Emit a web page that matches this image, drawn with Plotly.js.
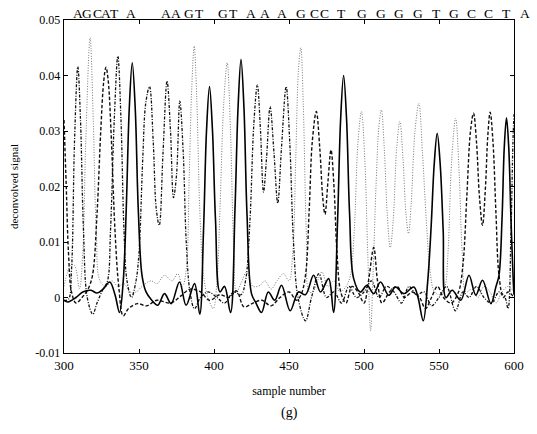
<!DOCTYPE html>
<html>
<head>
<meta charset="utf-8">
<script src="https://cdn.plot.ly/plotly-3.0.1.min.js"></script>
<style>html,body{margin:0;padding:0;background:#fff;}#chart{width:537px;height:434px;}</style>
</head>
<body>
<div id="chart"></div>
<script>
// T channel (solid)
const tX = [300,302.5,308,312.5,318,322,326,330.5,334,337,339.5,341.5,343.5,345.5,347.5,349.5,352,354.7,358.5,362.5,367,371.4,377,381.4,387,390.5,393,395,397,399,401,404,407,411,414,416,418,420,422,425,428,431.7,436.2,440.5,445,450.8,456.3,461,466.4,471,476.4,479.7,482.4,484.4,486.4,488.4,490.4,493.1,497.6,502,506.5,511,516.5,521,526.5,533.2,536,539.5,542.5,544.8,546.8,548.8,550.8,552.8,554.6,558.8,564.5,570,574.5,579,584.6,588,590,592,593.5,595,596.5,598,599.5,600];
const tY = [-0.0005,-0.0008,0.0,0.001,0.0013,0.0008,0.0015,0.0028,0.0005,-0.0027,0.003,0.016,0.034,0.0423,0.034,0.016,0.004,0.001,-0.0005,-0.0014,0.0007,-0.0011,0.0028,-0.0014,0.0025,-0.003,0.012,0.030,0.038,0.030,0.014,0.001,0.002,-0.0027,0.016,0.034,0.0429,0.034,0.015,0.0007,-0.001,-0.0027,0.001,-0.0005,0.0022,-0.0024,0.001,0.0005,0.004,0.001,0.0034,-0.0027,0.014,0.032,0.040,0.032,0.015,0.0034,0.001,0.0022,0.0007,0.0028,0.0004,0.0019,0.0007,0.0019,0.0,-0.0042,0.003,0.013,0.024,0.0296,0.024,0.012,0.0,0.0013,-0.0005,0.004,0.0004,0.0031,-0.0011,0.002,0.004,0.014,0.027,0.0324,0.027,0.014,0.003,0.0005];

// G channel (fine dotted, grey)
const gX = [300,304.5,307,310.3,312.5,314.5,317.4,319.5,321.5,324,328,332,336,340,344,348,352,358,362,367,372,375.8,379,381.5,383.5,385.2,386.8,388.5,390.5,393,396,399.5,402,404,406.5,408.8,411,413,415,418.4,421.7,426,430.7,434,438,442,446.3,450,452.5,454.5,456.3,457.9,459.5,461.5,463.5,466,469,472,476,480,484,488,491,493.5,496,498.3,500.5,502.5,504.4,506,508,510,511.6,513.5,515.5,517.5,519.5,521.8,523.9,526,528,529.7,531.5,534,536.6,539,541.5,544,547,551,554,556,558.5,561.1,563.5,565.5,568,572,576,580,584,588,592,596,600];
const gY = [0.002,0.0058,0.0058,0.0016,0.008,0.028,0.0468,0.032,0.012,0.003,0.002,0.003,0.002,0.0025,0.001,0.001,0.002,0.003,0.0025,0.004,0.003,0.0043,0.002,0.005,0.022,0.038,0.0453,0.036,0.016,0.004,0.0,-0.002,0.003,0.016,0.035,0.0423,0.03,0.01,0.001,0.0028,0.0046,0.002,0.0022,0.003,0.0015,0.003,0.0043,0.003,0.008,0.025,0.041,0.045,0.035,0.012,0.001,0.001,0.003,0.0046,0.002,0.003,0.001,0.002,0.004,0.012,0.028,0.0335,0.025,0.008,-0.006,0.004,0.02,0.031,0.0338,0.027,0.015,0.009,0.014,0.027,0.0317,0.025,0.015,0.0115,0.017,0.03,0.035,0.026,0.014,0.005,0.001,0.0005,0.002,0.008,0.025,0.0323,0.022,0.008,0.001,0.0015,0.0,0.002,0.001,-0.001,0.001,0.002,0.001];

// A channel (dash-dot)
const aX = [300,303,305,307,309.2,311,313,315.5,319.2,322,326,329,331,333.5,335.9,338,340,342,345,348,350,352.5,354.5,357,359.5,361.5,363.5,366,368.7,371,373,375,377.2,379.5,381.5,384,387,391,396,402,407,413,418,421,424,426.5,428.9,431,433,435,437.4,440,442.5,445,448.1,450.5,453,456,461,465,470,475,480,485,490,495,500,505,510,515,520,525,530,535,540,545,550,555,561,566,570,575,580,585,590,594,596,598,599.3,600];
const aY = [-0.0005,-0.0003,0.005,0.028,0.0416,0.032,0.012,0.0,-0.003,-0.001,0.0015,0.003,0.012,0.032,0.0435,0.032,0.012,0.003,0.0,0.003,0.008,0.025,0.035,0.038,0.028,0.016,0.013,0.026,0.039,0.03,0.018,0.022,0.0354,0.026,0.01,0.001,-0.002,0.0,0.001,0.0,-0.001,0.001,0.0005,0.003,0.014,0.031,0.0383,0.03,0.019,0.025,0.0344,0.026,0.017,0.027,0.038,0.028,0.01,0.0,-0.0042,0.0,0.0043,0.0,0.001,-0.001,0.002,0.0,0.001,0.003,0.0,0.002,0.001,-0.001,0.002,0.0005,0.001,-0.0015,0.0,0.002,-0.0024,0.001,0.0,0.002,0.0,-0.001,0.001,0.0,-0.002,0.012,0.028,0.033];

// C channel (dashed)
const cX = [300,301.5,303,305,308,312,316,319,322,324.5,326.5,328,329.5,331.5,334,336.5,339.5,343,349,355,362,371,378,384,391,397,404,410,415,420,426,432,438,444,450,455,458,461,463.5,465.5,468.2,470.5,472.5,474,476,478,480,482,484.5,488,492,496,500,503,506.5,509,512,517,522,527,532,537,541,545,549,553,558,563,566,568.5,571,573,575,577,579,581,582.5,584.1,586,588,590,593,596,600];
const cY = [0.032,0.02,0.008,0.001,-0.001,0.0,0.0015,0.004,0.015,0.030,0.039,0.0415,0.039,0.029,0.012,0.002,-0.0033,-0.002,-0.0011,-0.0015,-0.0005,-0.001,0.0003,0.0015,0.001,-0.0005,0.0005,0.0,0.0012,-0.0017,-0.001,-0.0005,-0.0015,0.0,0.001,-0.0005,0.0005,0.004,0.016,0.028,0.0335,0.027,0.018,0.015,0.021,0.0266,0.02,0.008,0.001,-0.001,0.002,0.001,-0.001,0.003,0.009,0.003,-0.001,0.001,0.002,0.0,0.001,0.0,-0.002,0.0,0.002,0.0,-0.001,0.001,0.006,0.018,0.030,0.0332,0.028,0.018,0.013,0.02,0.029,0.0334,0.028,0.015,0.004,0.0,0.001,0.0];

// Base-call letters along the top and their sample positions
const letters = ["A","G","C","A","T","A","A","A","G","T","G","T","A","A","A","G","C","C","T","G","G","G","G","T","G","C","C","T","A"];
const letterPos = [309.2,315.4,322.1,328.1,333.9,344.8,367.8,374.9,383.4,390.6,406.2,413.3,424.7,434.0,445.2,458.3,466.8,473.9,485.1,498.5,511.4,523.0,535.9,548.0,559.8,571.6,583.2,595.0,607.3];

const xTicks = [300,350,400,450,500,550,600];
const yTicks = [-0.01,0,0.01,0.02,0.03,0.04,0.05];
const yTickText = ["-0.01","0","0.01","0.02","0.03","0.04","0.05"];

const xRange = [300,600];
const serif = "Liberation Serif, Times New Roman, serif";

const traces = [
  {x:gX, y:gY, mode:"lines", line:{color:"#777", width:1, dash:"1px,1.6px", shape:"spline", smoothing:1}},
  {x:aX, y:aY, mode:"lines", line:{color:"#111", width:1.3, dash:"3px,1.5px,1px,1.5px", shape:"spline", smoothing:1}},
  {x:cX, y:cY, mode:"lines", line:{color:"#111", width:1.4, dash:"3.5px,2px", shape:"spline", smoothing:1}},
  {x:tX, y:tY, mode:"lines", line:{color:"#000", width:1.6, shape:"spline", smoothing:1}}
];

const annotations = letters.map((L,i)=>({
  text:L, xref:"paper", yref:"paper",
  x:(letterPos[i]-xRange[0])/(xRange[1]-xRange[0]), y:1.021,
  xanchor:"center", yanchor:"middle", showarrow:false,
  font:{family:serif, size:13.5, color:"#000"}
}));
annotations.push({text:"(g)", xref:"paper", yref:"paper", x:0.5, y:-0.18,
  xanchor:"center", yanchor:"middle", showarrow:false, font:{family:serif, size:14, color:"#000"}});

const layout = {
  width:537, height:434,
  margin:{l:64, r:23, t:20, b:81},
  paper_bgcolor:"#fff", plot_bgcolor:"#fff",
  showlegend:false,
  font:{family:serif, size:12, color:"#000"},
  xaxis:{range:xRange, tickvals:xTicks, ticktext:xTicks.map(String),
    showline:true, mirror:"ticks", linecolor:"#000", linewidth:1.3,
    ticks:"inside", ticklen:4, tickcolor:"#000", showgrid:false, zeroline:false,
    tickfont:{family:serif, size:13},
    title:{text:"sample number", font:{family:serif, size:12}, standoff:14}},
  yaxis:{range:[-0.01,0.05], tickvals:yTicks, ticktext:yTickText,
    showline:true, mirror:"ticks", linecolor:"#000", linewidth:1.3,
    ticks:"inside", ticklen:4, tickcolor:"#000", showgrid:false, zeroline:false,
    tickfont:{family:serif, size:12},
    title:{text:"deconvolved signal", font:{family:serif, size:11}, standoff:14}},
  annotations:annotations
};

Plotly.newPlot("chart", traces, layout, {displayModeBar:false, staticPlot:true});
</script>
</body>
</html>
